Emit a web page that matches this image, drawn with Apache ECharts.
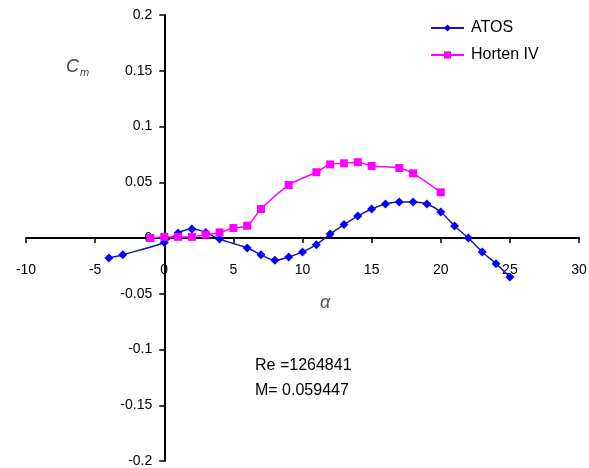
<!DOCTYPE html>
<html><head><meta charset="utf-8">
<script src="https://cdn.jsdelivr.net/npm/echarts@6/dist/echarts.min.js"></script>
<style>html,body{margin:0;padding:0;background:#fff}#c{width:589px;height:468px}</style>
</head><body><div id="c"></div>
<script>
var atosAlpha = [-4,-3,0,1,2,3,4,6,7,8,9,10,11,12,13,14,15,16,17,18,19,20,21,22,23,24,25];
var atosCm    = [-0.018,-0.015,-0.004,0.0045,0.008,0.005,-0.001,-0.009,-0.015,-0.020,-0.017,-0.0125,-0.006,0.0035,0.012,0.0197,0.026,0.0305,0.0323,0.0323,0.0305,0.0233,0.0108,0.0,-0.0125,-0.023,-0.035];
var hortenAlpha = [-1,0,1,2,3,4,5,6,7,9,11,12,13,14,15,17,18,20];
var hortenCm    = [0.0,0.001,0.001,0.001,0.003,0.005,0.009,0.011,0.026,0.0475,0.059,0.066,0.067,0.068,0.0646,0.0628,0.058,0.041];
var seriesNames = ['ATOS','Horten IV'];

function pairs(xs, ys){ return xs.map(function(x,i){return [x, ys[i]];}); }
var font = 'Liberation Sans, Arial, sans-serif';
var G = {left:26, right:10, top:15, bottom:7};
var W = 589, H = 468;
var gw = W - G.left - G.right, gh = H - G.top - G.bottom;
var xMin=-10, xMax=30, yMin=-0.2, yMax=0.2;
var xOff = -gh * (0 - yMin) / (yMax - yMin);
var yOff = -gw * (0 - xMin) / (xMax - xMin);
var chart = echarts.init(document.getElementById('c'));
chart.setOption({
  animation:false,
  backgroundColor:'#fff',
  grid:{left:G.left,right:G.right,top:G.top,bottom:G.bottom,containLabel:false,outerBoundsMode:'none'},
  legend:{
    left:425, top:15, orient:'vertical', itemGap:11, itemWidth:33, itemHeight:9,
    textStyle:{fontFamily:font,fontSize:16,color:'#000',padding:[0,0,0,2]},
    data:seriesNames
  },
  xAxis:{
    type:'value', min:xMin, max:xMax, interval:5, position:'bottom', offset:xOff,
    axisLine:{onZero:false,lineStyle:{color:'#000',width:2}},
    axisTick:{show:true,length:5,lineStyle:{color:'#000',width:1.5}},
    axisLabel:{margin:25,color:'#000',fontFamily:font,fontSize:14},
    splitLine:{show:false}
  },
  yAxis:{
    type:'value', min:yMin, max:yMax, interval:0.05, position:'left', offset:yOff,
    axisLine:{onZero:false,lineStyle:{color:'#000',width:2}},
    axisTick:{show:true,length:5,lineStyle:{color:'#000',width:1.5}},
    axisLabel:{margin:12,color:'#000',fontFamily:font,fontSize:14},
    splitLine:{show:false}
  },
  graphic:[
    {type:'text',left:66,top:58,style:{rich:{c:{fontFamily:font,fontSize:18,fontStyle:'italic',fill:'#444'},m:{fontFamily:font,fontSize:11,fontStyle:'italic',fill:'#444',padding:[12,0,0,1]}},text:'{c|C}{m|m}'}},
    {type:'text',left:320,top:294,style:{text:'α',font:'italic 18px '+font,fill:'#555'}},
    {type:'text',left:255,top:358,style:{text:'Re =1264841',font:'16px '+font,fill:'#000'}},
    {type:'text',left:255,top:383,style:{text:'M= 0.059447',font:'16px '+font,fill:'#000'}}
  ],
  series:[
    {name:seriesNames[0],type:'line',data:pairs(atosAlpha,atosCm),smooth:0.3,
     symbol:'diamond',symbolSize:9,itemStyle:{color:'#0000ff'},lineStyle:{color:'#1a1aa0',width:1.5}},
    {name:seriesNames[1],type:'line',data:pairs(hortenAlpha,hortenCm),smooth:0.3,
     symbol:'rect',symbolSize:8,itemStyle:{color:'#ff00ff'},lineStyle:{color:'#ff00ff',width:1.5}}
  ]
});
</script></body></html>
